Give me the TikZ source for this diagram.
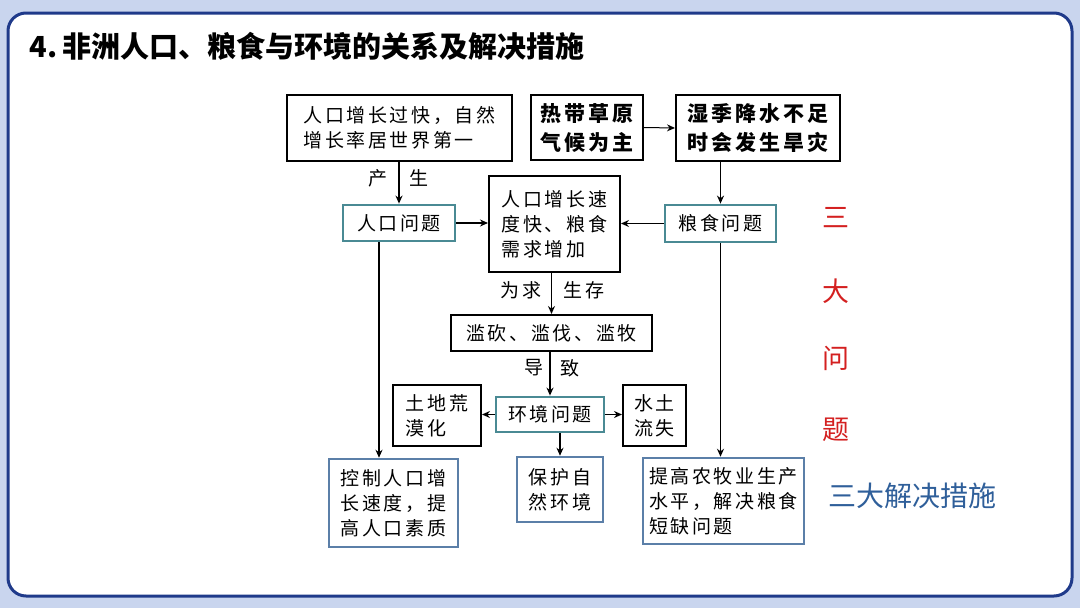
\documentclass[tikz,border=0pt]{standalone}
\usepackage{fontspec}
\setmainfont{Noto Sans CJK SC}
\newfontfamily\cjkw[LetterSpace=14]{Noto Sans CJK SC}
\usetikzlibrary{arrows.meta}
\definecolor{bgblue}{HTML}{C9D5EE}
\definecolor{frameblue}{HTML}{1F3A8A}
\definecolor{teal}{HTML}{4A8A94}
\definecolor{sblue}{HTML}{5B7FA8}
\definecolor{redt}{HTML}{D42020}
\definecolor{bluet}{HTML}{2F5F9A}
\begin{document}
\begin{tikzpicture}[x=1pt,y=-1pt,
  bx/.style={draw=black,line width=2pt,fill=white,inner sep=0pt,font=\cjkw\fontsize{19}{25}\selectfont,align=left},
  tb/.style={draw=teal,line width=2.8pt,fill=white,inner sep=0pt,font=\cjkw\fontsize{19}{25}\selectfont},
  sb/.style={draw=sblue,line width=2.5pt,fill=white,inner sep=0pt,font=\cjkw\fontsize{19}{25}\selectfont,align=left},
  ar/.style={-{Stealth[length=8pt,width=7pt]},line width=1.6pt},
  lb/.style={font=\cjkw\fontsize{19}{22}\selectfont}]
\fill[bgblue] (0,0) rectangle (1080,608);
\useasboundingbox (0,0) rectangle (1080,608);
\draw[frameblue,line width=3pt,fill=white,rounded corners=18pt] (8,13) rectangle (1072,596);
\node[anchor=west,font=\bfseries\fontsize{29}{32}\selectfont] (title) at (26,46) {4.\,非洲人口、粮食与环境的关系及解决措施};
% boxes
\node[bx,minimum width=225pt,minimum height=66pt] (A) at (399.5,128) {人口增长过快，自然\\增长率居世界第一};
\node[bx,minimum width=112pt,minimum height=65pt,font=\cjkw\bfseries\fontsize{21}{29}\selectfont] (B) at (587,127.5) {热带草原\\气候为主};
\node[bx,minimum width=164pt,minimum height=66pt,font=\cjkw\bfseries\fontsize{21}{29}\selectfont] (C) at (758,128) {湿季降水不足\\时会发生旱灾};
\node[tb,minimum width=112pt,minimum height=36pt] (D) at (399,223) {人口问题};
\node[bx,minimum width=131pt,minimum height=96pt] (E) at (554.5,224) {人口增长速\\度快、粮食\\需求增加};
\node[tb,minimum width=111pt,minimum height=37pt] (F) at (720.5,223.5) {粮食问题};
\node[bx,minimum width=201pt,minimum height=36pt] (G) at (551.5,333) {滥砍、滥伐、滥牧};
\node[tb,minimum width=108pt,minimum height=35pt] (H) at (550,414.5) {环境问题};
\node[bx,minimum width=88pt,minimum height=61pt] (I) at (437,415.5) {土地荒\\漠化};
\node[bx,minimum width=63pt,minimum height=61pt] (J) at (654.5,415.5) {水土\\流失};
\node[sb,minimum width=129pt,minimum height=88pt] (K) at (393.5,503) {控制人口增\\长速度，提\\高人口素质};
\node[sb,minimum width=86pt,minimum height=65pt] (L) at (560,489.5) {保护自\\然环境};
\node[sb,minimum width=161pt,minimum height=86pt] (M) at (723.5,501) {提高农牧业生产\\水平，解决粮食\\短缺问题};
% labels
\node[lb] (l1) at (378,178) {产};
\node[lb] (l2) at (419,178) {生};
\node[lb] (l3) at (521,290) {为求};
\node[lb] (l4) at (584,290) {生存};
\node[lb] (l5) at (534,368) {导};
\node[lb] (l6) at (570,368) {致};
% side text
\foreach \t/\yy [count=\i] in {三/218,大/291,问/358,题/430}
  \node[text=redt,font=\fontsize{27}{28}\selectfont] (s\i) at (836,\yy) {\t};
\node[text=bluet,font=\fontsize{28}{30}\selectfont] (sol) at (912,496) {三大解决措施};
% arrows
\draw[ar] (A.south -| D.north) -- (D.north);
\draw[ar,line width=1pt] (B.east) -- (C.west);
\draw[ar] (C.south -| F.north) -- (F.north);
\draw[ar] (D.east) -- (D.east -| E.west);
\draw[ar] (F.west) -- (F.west -| E.east);
\draw[ar] (E.south -| G.north) -- (G.north);
\draw[ar] (G.south -| H.north) -- (H.north);
\draw[ar] (H.west) -- (H.west -| I.east);
\draw[ar] (H.east) -- (H.east -| J.west);
\draw[ar] (H.south -| L.north) -- (L.north);
\draw[ar] ([xshift=-20pt]D.south) -- ([xshift=-20pt]D.south |- K.north);
\draw[ar] (F.south) -- (F.south |- M.north);
\end{tikzpicture}
\end{document}
